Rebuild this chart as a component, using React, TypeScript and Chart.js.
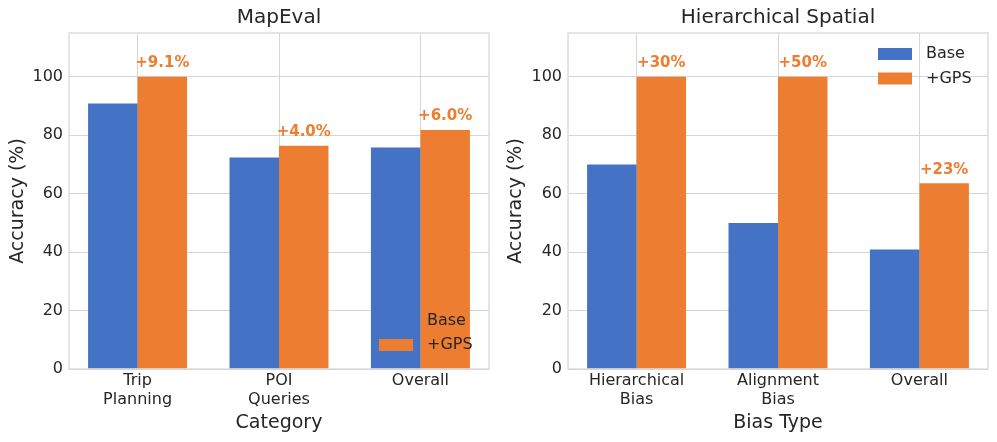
import React, { useEffect, useRef } from 'react';
import { Chart, registerables } from 'chart.js';

Chart.register(...registerables);

// ---- data ----
const categoriesMap = [['Trip', 'Planning'], ['POI', 'Queries'], ['Overall']];
const baseMap = [90.9, 72.4, 75.8];
const gpsMap = [100, 76.4, 81.8];
const gainMap = ['+9.1%', '+4.0%', '+6.0%'];

const categoriesHier = [['Hierarchical', 'Bias'], ['Alignment', 'Bias'], ['Overall']];
const baseHier = [70, 50, 40.9];
const gpsHier = [100, 100, 63.6];
const gainHier = ['+30%', '+50%', '+23%'];

const seriesLabels = ['Base', '+GPS'];
const yTickStep = 20;

// ---- style ----
const FONT = '"DejaVu Sans", sans-serif';
const TEXT = '#262626';
const GRID = '#d6d6d6';
const BLUE = '#4472C4';
const ORANGE = '#ED7D31';

const decor = {
  id: 'decor',
  afterDraw(chart: any, _args: any, opts: any) {
    const { ctx, chartArea: a } = chart;
    ctx.save();
    // frame (spines)
    ctx.strokeStyle = GRID;
    ctx.lineWidth = 1.25;
    ctx.strokeRect(a.left, a.top, a.right - a.left, a.bottom - a.top);
    // title
    ctx.fillStyle = TEXT;
    ctx.font = `20px ${FONT}`;
    ctx.textAlign = 'center';
    ctx.textBaseline = 'middle';
    ctx.fillText(opts.title, (a.left + a.right) / 2, a.top - 15.5);
    // gain annotations
    const meta = chart.getDatasetMeta(1);
    ctx.fillStyle = ORANGE;
    ctx.font = `bold 15px ${FONT}`;
    meta.data.forEach((bar: any, i: number) => {
      ctx.fillText(opts.gains[i], bar.x, bar.y - 13.5);
    });
    // legend
    const rowH = 24.5;
    const firstY = opts.legend === 'lower' ? a.bottom - 24 - rowH : a.top + 21;
    ctx.font = `16px ${FONT}`;
    ctx.textAlign = 'left';
    chart.data.datasets.forEach((ds: any, i: number) => {
      const cy = firstY + i * rowH;
      ctx.fillStyle = ds.backgroundColor;
      ctx.fillRect(a.right - 110, cy - 6, 34, 12);
      ctx.fillStyle = TEXT;
      ctx.fillText(ds.label, a.right - 62, cy);
    });
    ctx.restore();
  },
};

function makeConfig(
  cats: string[][],
  base: number[],
  gps: number[],
  gains: string[],
  xTitle: string,
  title: string,
  legend: string,
  yWidth: number
): any {
  const tickFont = { family: FONT, size: 16, lineHeight: 1.15 };
  return {
    type: 'bar',
    data: {
      datasets: [
        {
          label: seriesLabels[0],
          data: base.map((v, i) => ({ x: i, y: v })),
          backgroundColor: BLUE,
          categoryPercentage: 0.7,
          barPercentage: 1,
        },
        {
          label: seriesLabels[1],
          data: gps.map((v, i) => ({ x: i, y: v })),
          backgroundColor: ORANGE,
          categoryPercentage: 0.7,
          barPercentage: 1,
        },
      ],
    },
    plugins: [decor],
    options: {
      animation: false,
      responsive: false,
      events: [],
      layout: { padding: { left: 0, right: 9, top: 33, bottom: 0 } },
      plugins: {
        legend: { display: false },
        tooltip: { enabled: false },
        title: { display: false },
        decor: { title, gains, legend },
      },
      scales: {
        x: {
          type: 'linear',
          min: -0.485,
          max: 2.485,
          offset: false,
          grid: { color: GRID, lineWidth: 1, drawTicks: false, offset: false },
          border: { display: false },
          ticks: {
            autoSkip: false,
            maxRotation: 0,
            padding: 3,
            font: tickFont,
            color: TEXT,
            callback: (v: number) => cats[v] ?? '',
          },
          afterBuildTicks: (s: any) => {
            s.ticks = cats.map((_c, i) => ({ value: i }));
          },
          afterFit: (s: any) => {
            s.height = 73;
          },
          title: {
            display: true,
            text: xTitle,
            color: TEXT,
            font: { family: FONT, size: 19 },
            padding: { top: 0, bottom: 8 },
          },
        },
        y: {
          min: 0,
          max: 115,
          grid: { color: GRID, lineWidth: 1, drawTicks: false },
          border: { display: false },
          ticks: {
            stepSize: yTickStep,
            includeBounds: false,
            padding: 6,
            font: { family: FONT, size: 16 },
            color: TEXT,
          },
          afterFit: (s: any) => {
            s.width = yWidth;
          },
          title: {
            display: true,
            text: 'Accuracy (%)',
            color: TEXT,
            font: { family: FONT, size: 19 },
            padding: { top: 6.6, bottom: 0 },
          },
        },
      },
    },
  };
}

function BarPanel(props: { config: any; width: number; height: number }) {
  const ref = useRef<HTMLCanvasElement | null>(null);
  useEffect(() => {
    if (!ref.current) return;
    const chart = new Chart(ref.current, props.config);
    return () => chart.destroy();
  }, []);
  return (
    <canvas
      ref={ref}
      width={props.width}
      height={props.height}
      style={{ display: 'block', width: props.width, height: props.height }}
    />
  );
}

export default function App() {
  const left = makeConfig(categoriesMap, baseMap, gpsMap, gainMap, 'Category', 'MapEval', 'lower', 69);
  const right = makeConfig(
    categoriesHier,
    baseHier,
    gpsHier,
    gainHier,
    'Bias Type',
    'Hierarchical Spatial',
    'upper',
    70
  );
  return (
    <div
      style={{
        position: 'fixed',
        left: 0,
        top: 0,
        width: 997,
        height: 442,
        display: 'flex',
        background: '#ffffff',
      }}
    >
      <BarPanel config={left} width={498} height={442} />
      <BarPanel config={right} width={499} height={442} />
    </div>
  );
}
